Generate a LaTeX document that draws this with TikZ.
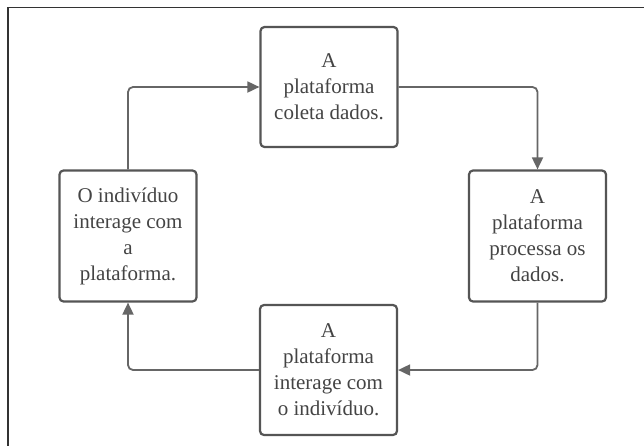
\documentclass[tikz,border=0pt]{standalone}
\usepackage{fontspec}
\setmainfont{Liberation Serif}
\usetikzlibrary{arrows.meta}
\definecolor{boxline}{HTML}{555555}
\definecolor{conn}{HTML}{666666}
\definecolor{txt}{HTML}{444444}
\definecolor{frame}{HTML}{333333}
\tikzset{
  stepbox/.style={draw=boxline, line width=2.2pt, rounded corners=4pt, fill=white,
    minimum width=137pt, align=center, text=txt,
    font=\fontsize{21}{26}\selectfont, inner sep=0pt},
  flow/.style={draw=conn, line width=1.8pt, rounded corners=5pt,
    -{Triangle[length=12pt,width=11pt]}}
}
\begin{document}
\begin{tikzpicture}[x=1pt,y=-1pt]
\useasboundingbox (0,0) rectangle (644,445);
\fill[white] (0,0) rectangle (644,445);
\draw[frame, line width=1.6pt] (8,460) -- (8,7.5) -- (660,7.5);
\node[stepbox, minimum height=120pt] (top) at (329,87) {A\\plataforma\\coleta dados.};
\node[stepbox, minimum height=131pt] (left) at (128,236) {O indivíduo\\interage com\\a\\plataforma.};
\node[stepbox, minimum height=131pt] (right) at (537.5,236) {A\\plataforma\\processa os\\dados.};
\node[stepbox, minimum height=130pt] (bot) at (328.5,370) {A\\plataforma\\interage com\\o indivíduo.};
\draw[flow] (left.north) |- (top.west);
\draw[flow] (top.east) -| (right.north);
\draw[flow] (right.south) |- (bot.east);
\draw[flow] (bot.west) -| (left.south);
\end{tikzpicture}
\end{document}
